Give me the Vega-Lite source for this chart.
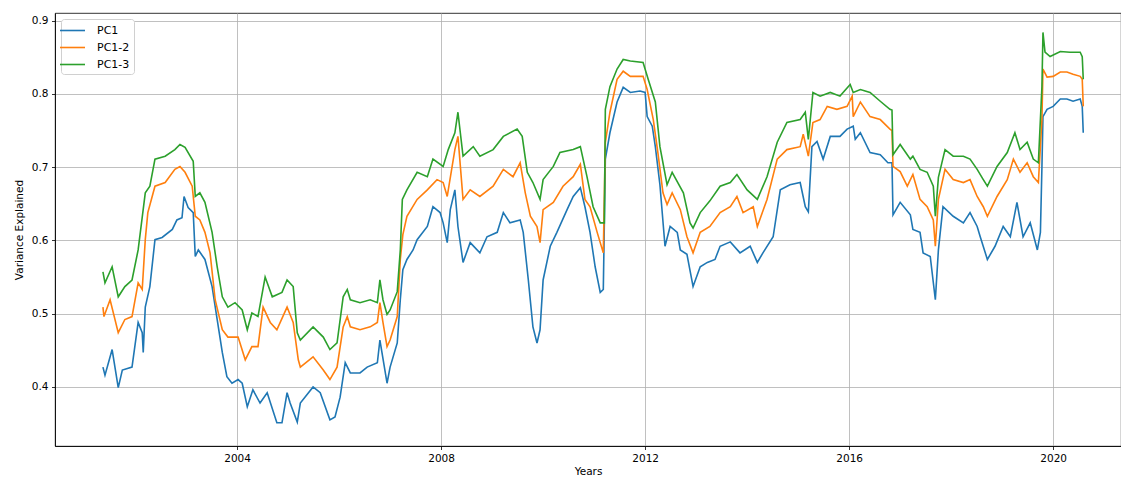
{
"$schema":"https://vega.github.io/schema/vega-lite/v6.json",
"width":1066,"height":433,
"autosize":{"type":"none"},
"padding":{"left":55,"top":13,"right":0,"bottom":32},
"background":"#ffffff",
"config":{
"font":"DejaVu Sans",
"view":{"stroke":"#000000","strokeWidth":0.8},
"axis":{"domainColor":"#000000","domainWidth":0.8,"tickColor":"#000000","tickWidth":0.8,"tickSize":3.5,"labelColor":"#000000","titleColor":"#000000","gridColor":"#b0b0b0","gridWidth":0.8,"labelFontSize":10.5,"titleFontSize":10.5,"titleFontWeight":"normal","labelPadding":3.5,"labelFont":"DejaVu Sans","titleFont":"DejaVu Sans"}
},
"data":{"values":[
{"s":"PC1","t":2001.37,"v":0.427},{"s":"PC1","t":2001.41,"v":0.416},{"s":"PC1","t":2001.55,"v":0.451},{"s":"PC1","t":2001.67,"v":0.399},{"s":"PC1","t":2001.75,"v":0.423},{"s":"PC1","t":2001.94,"v":0.427},{"s":"PC1","t":2002.06,"v":0.488},{"s":"PC1","t":2002.14,"v":0.474},{"s":"PC1","t":2002.16,"v":0.447},{"s":"PC1","t":2002.20,"v":0.509},{"s":"PC1","t":2002.29,"v":0.537},{"s":"PC1","t":2002.39,"v":0.601},{"s":"PC1","t":2002.53,"v":0.604},{"s":"PC1","t":2002.73,"v":0.615},{"s":"PC1","t":2002.82,"v":0.628},{"s":"PC1","t":2002.92,"v":0.631},{"s":"PC1","t":2002.96,"v":0.660},{"s":"PC1","t":2003.04,"v":0.645},{"s":"PC1","t":2003.14,"v":0.638},{"s":"PC1","t":2003.18,"v":0.578},{"s":"PC1","t":2003.24,"v":0.587},{"s":"PC1","t":2003.37,"v":0.574},{"s":"PC1","t":2003.51,"v":0.537},{"s":"PC1","t":2003.61,"v":0.492},{"s":"PC1","t":2003.71,"v":0.447},{"s":"PC1","t":2003.80,"v":0.414},{"s":"PC1","t":2003.90,"v":0.405},{"s":"PC1","t":2004.02,"v":0.410},{"s":"PC1","t":2004.10,"v":0.405},{"s":"PC1","t":2004.20,"v":0.373},{"s":"PC1","t":2004.31,"v":0.396},{"s":"PC1","t":2004.45,"v":0.378},{"s":"PC1","t":2004.59,"v":0.392},{"s":"PC1","t":2004.78,"v":0.351},{"s":"PC1","t":2004.88,"v":0.351},{"s":"PC1","t":2004.98,"v":0.392},{"s":"PC1","t":2005.04,"v":0.378},{"s":"PC1","t":2005.18,"v":0.352},{"s":"PC1","t":2005.24,"v":0.378},{"s":"PC1","t":2005.49,"v":0.400},{"s":"PC1","t":2005.63,"v":0.392},{"s":"PC1","t":2005.82,"v":0.355},{"s":"PC1","t":2005.92,"v":0.359},{"s":"PC1","t":2006.02,"v":0.386},{"s":"PC1","t":2006.12,"v":0.433},{"s":"PC1","t":2006.22,"v":0.419},{"s":"PC1","t":2006.41,"v":0.419},{"s":"PC1","t":2006.55,"v":0.427},{"s":"PC1","t":2006.75,"v":0.433},{"s":"PC1","t":2006.80,"v":0.464},{"s":"PC1","t":2006.94,"v":0.405},{"s":"PC1","t":2007.00,"v":0.427},{"s":"PC1","t":2007.14,"v":0.460},{"s":"PC1","t":2007.20,"v":0.519},{"s":"PC1","t":2007.25,"v":0.560},{"s":"PC1","t":2007.33,"v":0.574},{"s":"PC1","t":2007.45,"v":0.587},{"s":"PC1","t":2007.53,"v":0.601},{"s":"PC1","t":2007.73,"v":0.619},{"s":"PC1","t":2007.84,"v":0.646},{"s":"PC1","t":2007.98,"v":0.638},{"s":"PC1","t":2008.04,"v":0.624},{"s":"PC1","t":2008.12,"v":0.597},{"s":"PC1","t":2008.18,"v":0.642},{"s":"PC1","t":2008.27,"v":0.669},{"s":"PC1","t":2008.33,"v":0.619},{"s":"PC1","t":2008.43,"v":0.570},{"s":"PC1","t":2008.57,"v":0.597},{"s":"PC1","t":2008.76,"v":0.583},{"s":"PC1","t":2008.90,"v":0.605},{"s":"PC1","t":2009.10,"v":0.611},{"s":"PC1","t":2009.22,"v":0.638},{"s":"PC1","t":2009.35,"v":0.624},{"s":"PC1","t":2009.55,"v":0.628},{"s":"PC1","t":2009.61,"v":0.611},{"s":"PC1","t":2009.71,"v":0.546},{"s":"PC1","t":2009.80,"v":0.482},{"s":"PC1","t":2009.88,"v":0.460},{"s":"PC1","t":2009.94,"v":0.478},{"s":"PC1","t":2010.00,"v":0.546},{"s":"PC1","t":2010.14,"v":0.592},{"s":"PC1","t":2010.27,"v":0.611},{"s":"PC1","t":2010.47,"v":0.642},{"s":"PC1","t":2010.59,"v":0.660},{"s":"PC1","t":2010.73,"v":0.672},{"s":"PC1","t":2010.82,"v":0.646},{"s":"PC1","t":2010.92,"v":0.611},{"s":"PC1","t":2011.02,"v":0.564},{"s":"PC1","t":2011.12,"v":0.529},{"s":"PC1","t":2011.18,"v":0.533},{"s":"PC1","t":2011.22,"v":0.711},{"s":"PC1","t":2011.31,"v":0.747},{"s":"PC1","t":2011.45,"v":0.789},{"s":"PC1","t":2011.57,"v":0.809},{"s":"PC1","t":2011.71,"v":0.802},{"s":"PC1","t":2011.90,"v":0.804},{"s":"PC1","t":2012.00,"v":0.802},{"s":"PC1","t":2012.04,"v":0.769},{"s":"PC1","t":2012.14,"v":0.756},{"s":"PC1","t":2012.20,"v":0.728},{"s":"PC1","t":2012.29,"v":0.676},{"s":"PC1","t":2012.39,"v":0.592},{"s":"PC1","t":2012.49,"v":0.619},{"s":"PC1","t":2012.63,"v":0.611},{"s":"PC1","t":2012.69,"v":0.587},{"s":"PC1","t":2012.82,"v":0.581},{"s":"PC1","t":2012.94,"v":0.537},{"s":"PC1","t":2013.08,"v":0.564},{"s":"PC1","t":2013.22,"v":0.570},{"s":"PC1","t":2013.37,"v":0.574},{"s":"PC1","t":2013.47,"v":0.592},{"s":"PC1","t":2013.67,"v":0.598},{"s":"PC1","t":2013.86,"v":0.583},{"s":"PC1","t":2014.06,"v":0.592},{"s":"PC1","t":2014.20,"v":0.570},{"s":"PC1","t":2014.31,"v":0.583},{"s":"PC1","t":2014.51,"v":0.605},{"s":"PC1","t":2014.65,"v":0.669},{"s":"PC1","t":2014.84,"v":0.676},{"s":"PC1","t":2015.04,"v":0.679},{"s":"PC1","t":2015.14,"v":0.646},{"s":"PC1","t":2015.20,"v":0.639},{"s":"PC1","t":2015.27,"v":0.728},{"s":"PC1","t":2015.37,"v":0.735},{"s":"PC1","t":2015.49,"v":0.711},{"s":"PC1","t":2015.63,"v":0.742},{"s":"PC1","t":2015.82,"v":0.742},{"s":"PC1","t":2015.96,"v":0.752},{"s":"PC1","t":2016.08,"v":0.756},{"s":"PC1","t":2016.12,"v":0.738},{"s":"PC1","t":2016.22,"v":0.747},{"s":"PC1","t":2016.41,"v":0.720},{"s":"PC1","t":2016.61,"v":0.717},{"s":"PC1","t":2016.76,"v":0.706},{"s":"PC1","t":2016.84,"v":0.706},{"s":"PC1","t":2016.86,"v":0.635},{"s":"PC1","t":2017.00,"v":0.652},{"s":"PC1","t":2017.20,"v":0.635},{"s":"PC1","t":2017.25,"v":0.615},{"s":"PC1","t":2017.39,"v":0.611},{"s":"PC1","t":2017.45,"v":0.583},{"s":"PC1","t":2017.59,"v":0.578},{"s":"PC1","t":2017.69,"v":0.519},{"s":"PC1","t":2017.75,"v":0.587},{"s":"PC1","t":2017.84,"v":0.646},{"s":"PC1","t":2018.04,"v":0.633},{"s":"PC1","t":2018.24,"v":0.624},{"s":"PC1","t":2018.37,"v":0.638},{"s":"PC1","t":2018.51,"v":0.619},{"s":"PC1","t":2018.57,"v":0.605},{"s":"PC1","t":2018.71,"v":0.574},{"s":"PC1","t":2018.86,"v":0.592},{"s":"PC1","t":2019.02,"v":0.619},{"s":"PC1","t":2019.16,"v":0.605},{"s":"PC1","t":2019.29,"v":0.652},{"s":"PC1","t":2019.41,"v":0.605},{"s":"PC1","t":2019.55,"v":0.624},{"s":"PC1","t":2019.69,"v":0.587},{"s":"PC1","t":2019.75,"v":0.611},{"s":"PC1","t":2019.78,"v":0.701},{"s":"PC1","t":2019.80,"v":0.769},{"s":"PC1","t":2019.88,"v":0.779},{"s":"PC1","t":2020.00,"v":0.783},{"s":"PC1","t":2020.14,"v":0.793},{"s":"PC1","t":2020.27,"v":0.793},{"s":"PC1","t":2020.39,"v":0.790},{"s":"PC1","t":2020.53,"v":0.793},{"s":"PC1","t":2020.57,"v":0.783},{"s":"PC1","t":2020.59,"v":0.747},
{"s":"PC1-2","t":2001.37,"v":0.509},{"s":"PC1-2","t":2001.39,"v":0.496},{"s":"PC1-2","t":2001.51,"v":0.519},{"s":"PC1-2","t":2001.67,"v":0.474},{"s":"PC1-2","t":2001.80,"v":0.492},{"s":"PC1-2","t":2001.94,"v":0.496},{"s":"PC1-2","t":2002.06,"v":0.542},{"s":"PC1-2","t":2002.14,"v":0.533},{"s":"PC1-2","t":2002.20,"v":0.601},{"s":"PC1-2","t":2002.25,"v":0.638},{"s":"PC1-2","t":2002.39,"v":0.674},{"s":"PC1-2","t":2002.59,"v":0.679},{"s":"PC1-2","t":2002.78,"v":0.697},{"s":"PC1-2","t":2002.88,"v":0.701},{"s":"PC1-2","t":2002.98,"v":0.693},{"s":"PC1-2","t":2003.12,"v":0.674},{"s":"PC1-2","t":2003.18,"v":0.633},{"s":"PC1-2","t":2003.27,"v":0.628},{"s":"PC1-2","t":2003.37,"v":0.611},{"s":"PC1-2","t":2003.47,"v":0.583},{"s":"PC1-2","t":2003.57,"v":0.519},{"s":"PC1-2","t":2003.71,"v":0.478},{"s":"PC1-2","t":2003.82,"v":0.468},{"s":"PC1-2","t":2004.02,"v":0.468},{"s":"PC1-2","t":2004.16,"v":0.437},{"s":"PC1-2","t":2004.29,"v":0.455},{"s":"PC1-2","t":2004.41,"v":0.455},{"s":"PC1-2","t":2004.51,"v":0.509},{"s":"PC1-2","t":2004.65,"v":0.488},{"s":"PC1-2","t":2004.78,"v":0.478},{"s":"PC1-2","t":2004.98,"v":0.509},{"s":"PC1-2","t":2005.10,"v":0.488},{"s":"PC1-2","t":2005.20,"v":0.437},{"s":"PC1-2","t":2005.24,"v":0.427},{"s":"PC1-2","t":2005.49,"v":0.441},{"s":"PC1-2","t":2005.69,"v":0.423},{"s":"PC1-2","t":2005.82,"v":0.410},{"s":"PC1-2","t":2005.96,"v":0.427},{"s":"PC1-2","t":2006.08,"v":0.482},{"s":"PC1-2","t":2006.16,"v":0.496},{"s":"PC1-2","t":2006.22,"v":0.482},{"s":"PC1-2","t":2006.41,"v":0.478},{"s":"PC1-2","t":2006.61,"v":0.482},{"s":"PC1-2","t":2006.75,"v":0.488},{"s":"PC1-2","t":2006.80,"v":0.515},{"s":"PC1-2","t":2006.86,"v":0.488},{"s":"PC1-2","t":2006.94,"v":0.455},{"s":"PC1-2","t":2007.00,"v":0.464},{"s":"PC1-2","t":2007.14,"v":0.496},{"s":"PC1-2","t":2007.20,"v":0.574},{"s":"PC1-2","t":2007.25,"v":0.608},{"s":"PC1-2","t":2007.33,"v":0.633},{"s":"PC1-2","t":2007.53,"v":0.656},{"s":"PC1-2","t":2007.73,"v":0.669},{"s":"PC1-2","t":2007.92,"v":0.683},{"s":"PC1-2","t":2008.04,"v":0.679},{"s":"PC1-2","t":2008.12,"v":0.660},{"s":"PC1-2","t":2008.27,"v":0.724},{"s":"PC1-2","t":2008.33,"v":0.742},{"s":"PC1-2","t":2008.43,"v":0.656},{"s":"PC1-2","t":2008.57,"v":0.669},{"s":"PC1-2","t":2008.76,"v":0.660},{"s":"PC1-2","t":2009.02,"v":0.674},{"s":"PC1-2","t":2009.22,"v":0.697},{"s":"PC1-2","t":2009.41,"v":0.687},{"s":"PC1-2","t":2009.55,"v":0.706},{"s":"PC1-2","t":2009.65,"v":0.665},{"s":"PC1-2","t":2009.75,"v":0.633},{"s":"PC1-2","t":2009.88,"v":0.619},{"s":"PC1-2","t":2009.94,"v":0.597},{"s":"PC1-2","t":2010.00,"v":0.642},{"s":"PC1-2","t":2010.20,"v":0.652},{"s":"PC1-2","t":2010.39,"v":0.674},{"s":"PC1-2","t":2010.59,"v":0.687},{"s":"PC1-2","t":2010.73,"v":0.704},{"s":"PC1-2","t":2010.82,"v":0.656},{"s":"PC1-2","t":2010.92,"v":0.646},{"s":"PC1-2","t":2011.06,"v":0.611},{"s":"PC1-2","t":2011.18,"v":0.583},{"s":"PC1-2","t":2011.22,"v":0.734},{"s":"PC1-2","t":2011.31,"v":0.775},{"s":"PC1-2","t":2011.45,"v":0.820},{"s":"PC1-2","t":2011.57,"v":0.831},{"s":"PC1-2","t":2011.71,"v":0.824},{"s":"PC1-2","t":2011.96,"v":0.824},{"s":"PC1-2","t":2012.04,"v":0.806},{"s":"PC1-2","t":2012.16,"v":0.765},{"s":"PC1-2","t":2012.25,"v":0.720},{"s":"PC1-2","t":2012.35,"v":0.665},{"s":"PC1-2","t":2012.43,"v":0.649},{"s":"PC1-2","t":2012.53,"v":0.665},{"s":"PC1-2","t":2012.69,"v":0.642},{"s":"PC1-2","t":2012.82,"v":0.605},{"s":"PC1-2","t":2012.94,"v":0.583},{"s":"PC1-2","t":2013.08,"v":0.611},{"s":"PC1-2","t":2013.27,"v":0.619},{"s":"PC1-2","t":2013.47,"v":0.638},{"s":"PC1-2","t":2013.67,"v":0.646},{"s":"PC1-2","t":2013.80,"v":0.660},{"s":"PC1-2","t":2013.92,"v":0.638},{"s":"PC1-2","t":2014.12,"v":0.646},{"s":"PC1-2","t":2014.20,"v":0.619},{"s":"PC1-2","t":2014.39,"v":0.656},{"s":"PC1-2","t":2014.59,"v":0.711},{"s":"PC1-2","t":2014.78,"v":0.724},{"s":"PC1-2","t":2015.04,"v":0.728},{"s":"PC1-2","t":2015.10,"v":0.745},{"s":"PC1-2","t":2015.20,"v":0.715},{"s":"PC1-2","t":2015.29,"v":0.761},{"s":"PC1-2","t":2015.43,"v":0.765},{"s":"PC1-2","t":2015.57,"v":0.783},{"s":"PC1-2","t":2015.76,"v":0.779},{"s":"PC1-2","t":2015.96,"v":0.783},{"s":"PC1-2","t":2016.06,"v":0.797},{"s":"PC1-2","t":2016.08,"v":0.769},{"s":"PC1-2","t":2016.22,"v":0.789},{"s":"PC1-2","t":2016.41,"v":0.769},{"s":"PC1-2","t":2016.61,"v":0.765},{"s":"PC1-2","t":2016.80,"v":0.752},{"s":"PC1-2","t":2016.84,"v":0.750},{"s":"PC1-2","t":2016.86,"v":0.701},{"s":"PC1-2","t":2017.00,"v":0.694},{"s":"PC1-2","t":2017.14,"v":0.674},{"s":"PC1-2","t":2017.25,"v":0.690},{"s":"PC1-2","t":2017.39,"v":0.656},{"s":"PC1-2","t":2017.53,"v":0.646},{"s":"PC1-2","t":2017.65,"v":0.628},{"s":"PC1-2","t":2017.69,"v":0.592},{"s":"PC1-2","t":2017.75,"v":0.656},{"s":"PC1-2","t":2017.88,"v":0.697},{"s":"PC1-2","t":2018.04,"v":0.683},{"s":"PC1-2","t":2018.24,"v":0.679},{"s":"PC1-2","t":2018.37,"v":0.683},{"s":"PC1-2","t":2018.51,"v":0.660},{"s":"PC1-2","t":2018.63,"v":0.646},{"s":"PC1-2","t":2018.71,"v":0.633},{"s":"PC1-2","t":2018.90,"v":0.660},{"s":"PC1-2","t":2019.10,"v":0.683},{"s":"PC1-2","t":2019.22,"v":0.711},{"s":"PC1-2","t":2019.35,"v":0.693},{"s":"PC1-2","t":2019.49,"v":0.706},{"s":"PC1-2","t":2019.61,"v":0.687},{"s":"PC1-2","t":2019.71,"v":0.679},{"s":"PC1-2","t":2019.78,"v":0.765},{"s":"PC1-2","t":2019.80,"v":0.834},{"s":"PC1-2","t":2019.88,"v":0.823},{"s":"PC1-2","t":2020.00,"v":0.824},{"s":"PC1-2","t":2020.14,"v":0.830},{"s":"PC1-2","t":2020.27,"v":0.830},{"s":"PC1-2","t":2020.39,"v":0.827},{"s":"PC1-2","t":2020.53,"v":0.824},{"s":"PC1-2","t":2020.57,"v":0.820},{"s":"PC1-2","t":2020.59,"v":0.783},
{"s":"PC1-3","t":2001.37,"v":0.557},{"s":"PC1-3","t":2001.41,"v":0.542},{"s":"PC1-3","t":2001.55,"v":0.564},{"s":"PC1-3","t":2001.67,"v":0.523},{"s":"PC1-3","t":2001.80,"v":0.537},{"s":"PC1-3","t":2001.94,"v":0.546},{"s":"PC1-3","t":2002.06,"v":0.587},{"s":"PC1-3","t":2002.20,"v":0.665},{"s":"PC1-3","t":2002.29,"v":0.674},{"s":"PC1-3","t":2002.39,"v":0.711},{"s":"PC1-3","t":2002.59,"v":0.715},{"s":"PC1-3","t":2002.78,"v":0.724},{"s":"PC1-3","t":2002.88,"v":0.731},{"s":"PC1-3","t":2002.98,"v":0.727},{"s":"PC1-3","t":2003.14,"v":0.708},{"s":"PC1-3","t":2003.18,"v":0.660},{"s":"PC1-3","t":2003.27,"v":0.665},{"s":"PC1-3","t":2003.37,"v":0.652},{"s":"PC1-3","t":2003.51,"v":0.611},{"s":"PC1-3","t":2003.61,"v":0.564},{"s":"PC1-3","t":2003.71,"v":0.523},{"s":"PC1-3","t":2003.82,"v":0.509},{"s":"PC1-3","t":2003.96,"v":0.515},{"s":"PC1-3","t":2004.10,"v":0.505},{"s":"PC1-3","t":2004.20,"v":0.478},{"s":"PC1-3","t":2004.29,"v":0.501},{"s":"PC1-3","t":2004.41,"v":0.496},{"s":"PC1-3","t":2004.55,"v":0.550},{"s":"PC1-3","t":2004.69,"v":0.523},{"s":"PC1-3","t":2004.88,"v":0.529},{"s":"PC1-3","t":2004.98,"v":0.546},{"s":"PC1-3","t":2005.10,"v":0.537},{"s":"PC1-3","t":2005.18,"v":0.474},{"s":"PC1-3","t":2005.24,"v":0.464},{"s":"PC1-3","t":2005.49,"v":0.482},{"s":"PC1-3","t":2005.69,"v":0.468},{"s":"PC1-3","t":2005.82,"v":0.451},{"s":"PC1-3","t":2005.96,"v":0.460},{"s":"PC1-3","t":2006.08,"v":0.523},{"s":"PC1-3","t":2006.16,"v":0.533},{"s":"PC1-3","t":2006.22,"v":0.519},{"s":"PC1-3","t":2006.41,"v":0.515},{"s":"PC1-3","t":2006.61,"v":0.519},{"s":"PC1-3","t":2006.75,"v":0.515},{"s":"PC1-3","t":2006.80,"v":0.546},{"s":"PC1-3","t":2006.86,"v":0.519},{"s":"PC1-3","t":2006.94,"v":0.499},{"s":"PC1-3","t":2007.00,"v":0.505},{"s":"PC1-3","t":2007.14,"v":0.530},{"s":"PC1-3","t":2007.20,"v":0.587},{"s":"PC1-3","t":2007.24,"v":0.656},{"s":"PC1-3","t":2007.33,"v":0.669},{"s":"PC1-3","t":2007.53,"v":0.693},{"s":"PC1-3","t":2007.73,"v":0.687},{"s":"PC1-3","t":2007.84,"v":0.711},{"s":"PC1-3","t":2008.04,"v":0.701},{"s":"PC1-3","t":2008.14,"v":0.724},{"s":"PC1-3","t":2008.27,"v":0.747},{"s":"PC1-3","t":2008.33,"v":0.775},{"s":"PC1-3","t":2008.43,"v":0.715},{"s":"PC1-3","t":2008.63,"v":0.728},{"s":"PC1-3","t":2008.76,"v":0.715},{"s":"PC1-3","t":2009.02,"v":0.724},{"s":"PC1-3","t":2009.22,"v":0.742},{"s":"PC1-3","t":2009.49,"v":0.752},{"s":"PC1-3","t":2009.59,"v":0.742},{"s":"PC1-3","t":2009.69,"v":0.693},{"s":"PC1-3","t":2009.80,"v":0.679},{"s":"PC1-3","t":2009.94,"v":0.656},{"s":"PC1-3","t":2010.00,"v":0.683},{"s":"PC1-3","t":2010.20,"v":0.701},{"s":"PC1-3","t":2010.33,"v":0.720},{"s":"PC1-3","t":2010.59,"v":0.724},{"s":"PC1-3","t":2010.73,"v":0.728},{"s":"PC1-3","t":2010.86,"v":0.687},{"s":"PC1-3","t":2010.98,"v":0.646},{"s":"PC1-3","t":2011.12,"v":0.624},{"s":"PC1-3","t":2011.20,"v":0.624},{"s":"PC1-3","t":2011.22,"v":0.779},{"s":"PC1-3","t":2011.31,"v":0.810},{"s":"PC1-3","t":2011.45,"v":0.834},{"s":"PC1-3","t":2011.57,"v":0.847},{"s":"PC1-3","t":2011.71,"v":0.845},{"s":"PC1-3","t":2011.96,"v":0.843},{"s":"PC1-3","t":2012.06,"v":0.820},{"s":"PC1-3","t":2012.20,"v":0.789},{"s":"PC1-3","t":2012.29,"v":0.728},{"s":"PC1-3","t":2012.43,"v":0.676},{"s":"PC1-3","t":2012.53,"v":0.693},{"s":"PC1-3","t":2012.75,"v":0.665},{"s":"PC1-3","t":2012.88,"v":0.624},{"s":"PC1-3","t":2012.94,"v":0.617},{"s":"PC1-3","t":2013.08,"v":0.638},{"s":"PC1-3","t":2013.27,"v":0.654},{"s":"PC1-3","t":2013.47,"v":0.674},{"s":"PC1-3","t":2013.67,"v":0.679},{"s":"PC1-3","t":2013.80,"v":0.690},{"s":"PC1-3","t":2014.00,"v":0.669},{"s":"PC1-3","t":2014.20,"v":0.656},{"s":"PC1-3","t":2014.39,"v":0.687},{"s":"PC1-3","t":2014.59,"v":0.734},{"s":"PC1-3","t":2014.78,"v":0.761},{"s":"PC1-3","t":2015.04,"v":0.765},{"s":"PC1-3","t":2015.14,"v":0.775},{"s":"PC1-3","t":2015.20,"v":0.738},{"s":"PC1-3","t":2015.29,"v":0.802},{"s":"PC1-3","t":2015.43,"v":0.797},{"s":"PC1-3","t":2015.63,"v":0.802},{"s":"PC1-3","t":2015.82,"v":0.797},{"s":"PC1-3","t":2016.02,"v":0.813},{"s":"PC1-3","t":2016.08,"v":0.802},{"s":"PC1-3","t":2016.22,"v":0.806},{"s":"PC1-3","t":2016.41,"v":0.802},{"s":"PC1-3","t":2016.61,"v":0.790},{"s":"PC1-3","t":2016.80,"v":0.779},{"s":"PC1-3","t":2016.84,"v":0.778},{"s":"PC1-3","t":2016.86,"v":0.717},{"s":"PC1-3","t":2017.00,"v":0.731},{"s":"PC1-3","t":2017.20,"v":0.711},{"s":"PC1-3","t":2017.25,"v":0.715},{"s":"PC1-3","t":2017.39,"v":0.697},{"s":"PC1-3","t":2017.53,"v":0.693},{"s":"PC1-3","t":2017.65,"v":0.674},{"s":"PC1-3","t":2017.69,"v":0.633},{"s":"PC1-3","t":2017.75,"v":0.686},{"s":"PC1-3","t":2017.88,"v":0.724},{"s":"PC1-3","t":2018.04,"v":0.715},{"s":"PC1-3","t":2018.24,"v":0.715},{"s":"PC1-3","t":2018.37,"v":0.711},{"s":"PC1-3","t":2018.51,"v":0.697},{"s":"PC1-3","t":2018.63,"v":0.683},{"s":"PC1-3","t":2018.71,"v":0.674},{"s":"PC1-3","t":2018.90,"v":0.701},{"s":"PC1-3","t":2019.10,"v":0.720},{"s":"PC1-3","t":2019.25,"v":0.747},{"s":"PC1-3","t":2019.35,"v":0.724},{"s":"PC1-3","t":2019.49,"v":0.734},{"s":"PC1-3","t":2019.61,"v":0.711},{"s":"PC1-3","t":2019.71,"v":0.706},{"s":"PC1-3","t":2019.78,"v":0.810},{"s":"PC1-3","t":2019.80,"v":0.884},{"s":"PC1-3","t":2019.84,"v":0.857},{"s":"PC1-3","t":2019.94,"v":0.851},{"s":"PC1-3","t":2020.14,"v":0.858},{"s":"PC1-3","t":2020.33,"v":0.857},{"s":"PC1-3","t":2020.53,"v":0.857},{"s":"PC1-3","t":2020.57,"v":0.851},{"s":"PC1-3","t":2020.59,"v":0.820}
]},
"mark":{"type":"line","strokeWidth":1.6,"clip":true},
"encoding":{
"x":{"field":"t","type":"quantitative","scale":{"domain":[2000.43,2021.33],"nice":false,"zero":false},"axis":{"values":[2004,2008,2012,2016,2020],"format":"d","title":"Years","grid":true,"titlePadding":3}},
"y":{"field":"v","type":"quantitative","scale":{"domain":[0.3193,0.9105],"nice":false,"zero":false},"axis":{"values":[0.4,0.5,0.6,0.7,0.8,0.9],"format":".1f","title":"Variance Explained","grid":true,"titlePadding":7}},
"color":{"field":"s","type":"nominal","scale":{"domain":["PC1","PC1-2","PC1-3"],"range":["#1f77b4","#ff7f0e","#2ca02c"]},
"legend":{"title":null,"orient":"none","legendX":6,"legendY":6,"symbolType":"M-2,0H2","symbolSize":156,"symbolStrokeWidth":1.6,"labelFontSize":11,"labelFont":"DejaVu Sans","labelColor":"#000000","labelOffset":17,"rowPadding":4,"padding":4,"fillColor":"#ffffff","strokeColor":"#d0d0d0","cornerRadius":3}}
}
}
